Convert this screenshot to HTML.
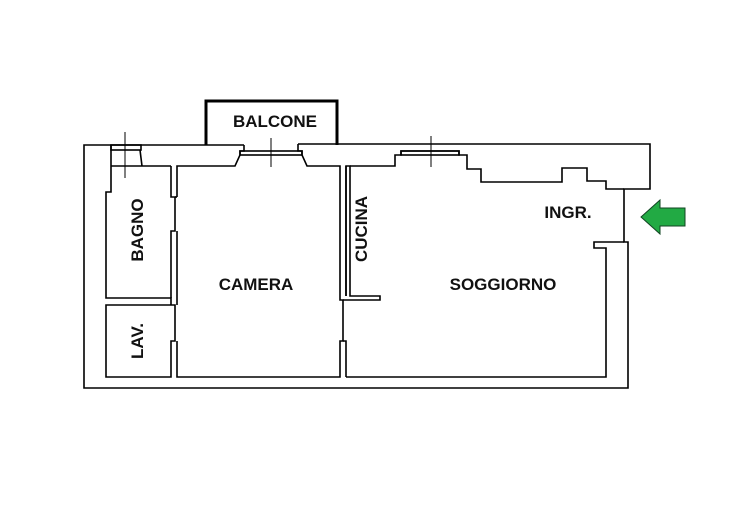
<!DOCTYPE html>
<html><head><meta charset="utf-8"><style>
html,body{margin:0;padding:0;background:#fff;}
svg{display:block}
text{font-family:"Liberation Sans",sans-serif;font-weight:bold;fill:#111;}
</style></head><body>
<svg width="752" height="513" viewBox="0 0 752 513" xmlns="http://www.w3.org/2000/svg">
<g fill="none" stroke="#000" stroke-width="1.6">
<polyline points="206,145 84,145 84,388 628,388 628,242 624,242 624,189 650,189 650,144 298,144"/>
<polyline points="206,145 206,101 337,101 337,145" stroke-width="3"/>
<line x1="206" y1="145" x2="244" y2="145"/>
<polyline points="111,145 111,192 106,192 106,298 171,298 171,305"/>
<line x1="111" y1="166" x2="171" y2="166"/>
<polyline points="171,166 171,197 175,197 175,231 171,231 171,298"/>
<rect x="111" y="145" width="30" height="5"/>
<line x1="140" y1="150" x2="142" y2="166"/>
<line x1="125" y1="132" x2="125" y2="178" stroke-width="1"/>
<polyline points="171,305 106,305 106,377 171,377 171,341 175,341 175,305 171,305"/>
<polyline points="177,197 177,166 235,166 240,155 240,151 244,151 244,145"/>
<rect x="240" y="151" width="62" height="4"/>
<line x1="271" y1="138" x2="271" y2="167" stroke-width="1"/>
<polyline points="298,144 298,151 302,151 302,155 307,166 340,166 340,300 343,300 343,341 340,341 340,377 177,377 177,341"/>
<line x1="177" y1="231" x2="177" y2="305"/>
<line x1="175" y1="197" x2="177" y2="197"/>
<polyline points="346,377 346,341 343,341"/>
<polyline points="343,300 380,300 380,296 350,296 350,166 346,166 346,296"/>
<polyline points="346,377 606,377 606,248 594,248 594,242 624,242"/>
<polyline points="350,166 395,166 395,155 401,155 401,151 459,151 459,155 467,155 467,169 481,169 481,182 562,182 562,168 587,168 587,181 606,181 606,189 624,189"/>
<rect x="401" y="151" width="58" height="4"/>
<line x1="431" y1="136" x2="431" y2="167" stroke-width="1"/>
<line x1="346" y1="166" x2="346" y2="296"/>
</g>
<polygon points="641,217 660,200 660,208 685,208 685,226 660,226 660,234" fill="#22aa44" stroke="#114422" stroke-width="1"/>
<text x="275" y="127" font-size="17" text-anchor="middle">BALCONE</text>
<text x="256" y="290" font-size="17" text-anchor="middle">CAMERA</text>
<text x="503" y="290" font-size="17" text-anchor="middle">SOGGIORNO</text>
<text x="568" y="218" font-size="17" text-anchor="middle">INGR.</text>
<text transform="translate(143,230) rotate(-90)" font-size="17" text-anchor="middle">BAGNO</text>
<text transform="translate(143,341) rotate(-90)" font-size="17" text-anchor="middle">LAV.</text>
<text transform="translate(367,229) rotate(-90)" font-size="17" text-anchor="middle">CUCINA</text>
</svg>
</body></html>
